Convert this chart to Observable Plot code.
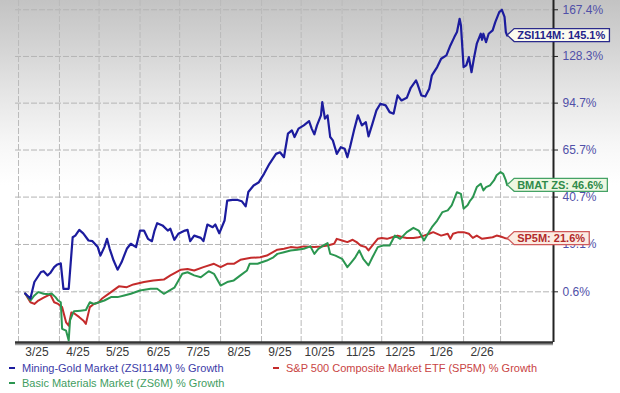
<!DOCTYPE html>
<html><head><meta charset="utf-8">
<script src="https://cdn.jsdelivr.net/npm/d3@7"></script>
<script src="https://cdn.jsdelivr.net/npm/@observablehq/plot@0.6"></script>
<style>
html,body{margin:0;padding:0;background:#fff;}
#wrap{width:620px;height:393px;position:relative;overflow:hidden;
 background:linear-gradient(to bottom,#c3c3c3 0px,#d3d3d3 45px,#e6e6e6 95px,#f7f7f7 145px,#ffffff 185px);
 font-family:"Liberation Sans",Arial,sans-serif;}
#chart{position:absolute;left:0;top:0;}
#legend{position:absolute;left:0;top:361px;width:620px;font-size:11px;font-family:"Liberation Sans Narrow","Liberation Sans",Arial,sans-serif;}
.row{position:relative;height:15px;}
.item{position:absolute;top:0;white-space:nowrap;line-height:15px;}
.dash{display:inline-block;width:6px;height:2.5px;vertical-align:middle;margin-right:7px;position:relative;top:-1px;}
</style></head><body><div id="wrap"><div id="chart"></div><div id="legend"></div></div>
<script>
// ---- data ----
const SERIES_LABELS = ["Mining-Gold Market (ZSI114M) % Growth", "S&P 500 Composite Market ETF (SP5M) % Growth", "Basic Materials Market (ZS6M) % Growth"];
const SERIES_COLORS = ["#1c1c9e", "#c42b2b", "#2b9650"];
const LEGEND_TEXT_COLORS = ["#3c3ca8", "#c94444", "#3f9d5f"];

const goldDates = ["2025-03-06","2025-03-10","2025-03-13","2025-03-18","2025-03-20","2025-03-23","2025-03-25","2025-03-28","2025-03-30","2025-04-02","2025-04-04","2025-04-08","2025-04-11","2025-04-13","2025-04-16","2025-04-19","2025-04-23","2025-04-26","2025-04-30","2025-05-02","2025-05-05","2025-05-07","2025-05-09","2025-05-12","2025-05-15","2025-05-18","2025-05-22","2025-05-25","2025-05-29","2025-06-01","2025-06-04","2025-06-07","2025-06-10","2025-06-12","2025-06-14","2025-06-18","2025-06-22","2025-06-24","2025-06-27","2025-06-30","2025-07-05","2025-07-07","2025-07-09","2025-07-12","2025-07-17","2025-07-19","2025-07-22","2025-07-26","2025-07-28","2025-07-31","2025-08-04","2025-08-06","2025-08-10","2025-08-14","2025-08-17","2025-08-20","2025-08-22","2025-08-26","2025-08-30","2025-09-03","2025-09-07","2025-09-12","2025-09-15","2025-09-18","2025-09-21","2025-09-24","2025-09-26","2025-09-29","2025-10-03","2025-10-07","2025-10-09","2025-10-11","2025-10-13","2025-10-16","2025-10-17","2025-10-19","2025-10-21","2025-10-23","2025-10-25","2025-10-28","2025-10-31","2025-11-03","2025-11-05","2025-11-07","2025-11-10","2025-11-13","2025-11-16","2025-11-19","2025-11-21","2025-11-24","2025-11-27","2025-11-30","2025-12-04","2025-12-07","2025-12-10","2025-12-13","2025-12-16","2025-12-20","2025-12-23","2025-12-27","2025-12-28","2025-12-31","2026-01-03","2026-01-06","2026-01-08","2026-01-12","2026-01-15","2026-01-19","2026-01-22","2026-01-25","2026-01-27","2026-01-29","2026-01-30","2026-02-01","2026-02-03","2026-02-05","2026-02-07","2026-02-09","2026-02-11","2026-02-14","2026-02-15","2026-02-16","2026-02-18","2026-02-20","2026-02-23","2026-02-25","2026-02-28","2026-03-02","2026-03-04","2026-03-05","2026-03-06"];
const goldValues = [0.0,-1.8,4.2,8.0,8.3,6.7,7.6,9.9,10.8,11.4,1.7,1.7,22.2,22.9,25.4,23.9,20.8,20.5,18.0,14.5,18.0,21.5,17.3,12.5,8.9,11.8,17.3,19.4,18.0,25.1,25.1,21.5,20.5,25.1,28.4,27.4,25.1,25.9,21.1,23.7,25.1,25.4,20.5,22.9,21.9,20.5,27.8,26.6,27.8,23.9,29.6,39.0,39.3,39.3,38.7,36.2,43.2,46.5,48.2,52.7,58.0,63.5,64.4,61.6,75.3,77.3,73.3,78.4,80.4,83.1,78.4,74.9,80.4,86.7,95.4,84.6,86.7,73.3,71.3,63.5,67.3,66.4,61.6,67.3,77.3,86.7,80.4,82.4,73.7,81.5,89.9,94.3,93.2,88.8,87.8,99.9,96.5,98.3,105.2,110.4,108.1,99.9,99.2,104.5,114.1,120.2,126.5,129.1,137.0,143.8,148.0,159.4,153.6,120.2,121.5,127.8,116.4,127.8,138.4,146.6,141.6,146.6,139.6,146.6,149.4,156.4,165.3,167.4,161.0,148.0,145.1];

const spDates = ["2025-03-06","2025-03-10","2025-03-13","2025-03-16","2025-03-20","2025-03-25","2025-03-28","2025-03-31","2025-04-03","2025-04-06","2025-04-08","2025-04-10","2025-04-12","2025-04-16","2025-04-19","2025-04-21","2025-04-24","2025-04-27","2025-05-01","2025-05-03","2025-05-10","2025-05-16","2025-05-22","2025-05-27","2025-06-04","2025-06-11","2025-06-19","2025-06-24","2025-07-02","2025-07-07","2025-07-12","2025-07-19","2025-07-27","2025-08-01","2025-08-06","2025-08-11","2025-08-16","2025-08-24","2025-08-31","2025-09-05","2025-09-13","2025-09-18","2025-09-23","2025-09-28","2025-10-03","2025-10-11","2025-10-16","2025-10-21","2025-10-26","2025-10-28","2025-11-01","2025-11-05","2025-11-09","2025-11-12","2025-11-15","2025-11-19","2025-11-21","2025-11-24","2025-11-28","2025-12-01","2025-12-05","2025-12-09","2025-12-13","2025-12-17","2025-12-20","2025-12-25","2025-12-29","2026-01-02","2026-01-06","2026-01-09","2026-01-15","2026-01-20","2026-01-22","2026-01-24","2026-01-28","2026-02-01","2026-02-05","2026-02-08","2026-02-11","2026-02-15","2026-02-19","2026-02-23","2026-02-26","2026-03-01","2026-03-04","2026-03-06"];
const spValues = [0.0,-3.1,-3.7,-2.5,-1.5,-0.3,-3.1,-3.7,-4.8,-9.9,-11.0,-6.6,-6.9,-8.2,-9.3,-10.4,-4.8,-3.7,-3.1,-1.9,0.5,2.6,2.3,3.3,4.2,4.8,5.1,6.7,8.9,9.2,8.6,9.9,11.2,9.9,11.2,11.2,12.8,13.6,13.8,14.5,16.9,17.3,18.0,17.7,18.3,18.0,18.3,18.7,19.4,21.5,20.8,20.1,21.1,20.1,18.7,18.0,16.6,18.7,21.5,21.9,21.5,22.2,22.9,22.2,21.9,21.9,22.2,22.9,23.7,24.4,22.9,23.7,21.5,23.7,24.4,24.4,23.7,21.9,22.9,21.5,21.9,22.2,22.9,22.5,21.9,21.6];

const matDates = ["2025-03-06","2025-03-10","2025-03-13","2025-03-16","2025-03-20","2025-03-24","2025-03-26","2025-03-29","2025-03-31","2025-04-02","2025-04-03","2025-04-06","2025-04-08","2025-04-09","2025-04-11","2025-04-12","2025-04-17","2025-04-21","2025-04-24","2025-04-27","2025-05-01","2025-05-05","2025-05-10","2025-05-15","2025-05-20","2025-05-25","2025-06-01","2025-06-09","2025-06-14","2025-06-19","2025-06-27","2025-07-03","2025-07-07","2025-07-12","2025-07-17","2025-07-23","2025-07-27","2025-08-01","2025-08-06","2025-08-11","2025-08-16","2025-08-21","2025-08-23","2025-08-29","2025-09-05","2025-09-10","2025-09-13","2025-09-18","2025-09-23","2025-09-28","2025-10-03","2025-10-08","2025-10-11","2025-10-14","2025-10-18","2025-10-21","2025-10-23","2025-10-27","2025-11-01","2025-11-05","2025-11-08","2025-11-11","2025-11-14","2025-11-17","2025-11-21","2025-11-24","2025-11-28","2025-12-02","2025-12-07","2025-12-11","2025-12-15","2025-12-20","2025-12-25","2025-12-29","2026-01-02","2026-01-05","2026-01-08","2026-01-12","2026-01-16","2026-01-20","2026-01-23","2026-01-27","2026-01-30","2026-02-01","2026-02-04","2026-02-06","2026-02-08","2026-02-11","2026-02-14","2026-02-16","2026-02-18","2026-02-21","2026-02-24","2026-02-26","2026-03-01","2026-03-03","2026-03-05","2026-03-06"];
const matValues = [0.0,-2.5,-0.7,0.5,-0.1,-0.3,0.0,-1.3,-2.5,-3.1,-12.0,-12.6,-15.7,-9.3,-7.1,-6.2,-6.0,-5.8,-3.1,-3.7,-3.1,-2.5,-1.3,-1.3,-0.7,-0.1,1.1,1.7,1.7,-0.1,2.1,7.3,7.9,6.7,6.0,8.3,7.3,2.9,4.2,4.8,6.7,8.6,11.2,11.2,12.5,13.8,15.2,15.9,16.6,16.9,17.3,18.3,15.2,17.3,18.7,19.7,15.2,14.5,13.2,9.9,11.8,13.8,16.6,13.2,10.6,13.8,18.0,18.7,18.7,22.9,21.5,24.4,26.3,25.1,20.8,23.7,26.6,29.6,33.5,34.3,36.7,43.1,42.3,35.1,36.7,39.0,40.6,45.7,47.4,44.0,45.7,46.6,49.1,51.8,53.5,52.6,49.1,46.6];

// axis ticks
const Y_TICK_VALUES = [167.4, 128.3, 94.7, 65.7, 40.7, 19.1, 0.6];
const X_TICK_DATES = ["2025-03-15","2025-04-15","2025-05-15","2025-06-15","2025-07-15","2025-08-15","2025-09-15","2025-10-15","2025-11-15","2025-12-15","2026-01-15","2026-02-15"];
const X_TICK_LABELS = ["3/25","4/25","5/25","6/25","7/25","8/25","9/25","10/25","11/25","12/25","1/26","2/26"];
const MONTH_STARTS = ["2025-03-01","2025-04-01","2025-05-01","2025-06-01","2025-07-01","2025-08-01","2025-09-01","2025-10-01","2025-11-01","2025-12-01","2026-01-01","2026-02-01","2026-03-01"];

// end-of-line tags
const TAG_NAMES = ["ZSI114M", "BMAT ZS", "SP5M"];
const TAG_VALUES = [145.1, 46.6, 21.6];
const TAG_DATE = "2026-03-06";
const TAG_TEXT = ["#23238a", "#2f8a4a", "#b22a2a"];
const TAG_FILL = ["#fbfbef", "#eef7e2", "#fbebe2"];
const TAG_STROKE = ["#2a2a8c", "#45a266", "#cf5a5a"];

// ---- chart ----
const OFF = 110.9; // the growth axis is logarithmic in (growth + offset)
const parse = d3.utcParse("%Y-%m-%d");
const mk = (dates, vals) => dates.map((d, i) => ({date: parse(d), pct: vals[i]}));
const gold = mk(goldDates, goldValues), sp = mk(spDates, spValues), mat = mk(matDates, matValues);
const tags = TAG_NAMES.map((n, i) => ({name: n, value: TAG_VALUES[i], date: parse(TAG_DATE), i}));

const X0 = new Date(Date.UTC(2025, 1, 26, 17));
const X1 = new Date(Date.UTC(2026, 3, 10, 2));
const Y0 = 94.6, Y1 = 286.8;
const xLabel = new Map(X_TICK_DATES.map((d, i) => [+parse(d), X_TICK_LABELS[i]]));

const plot = Plot.plot({
  width: 620, height: 362,
  marginLeft: 15, marginRight: 67, marginTop: 0, marginBottom: 20,
  style: {background: "transparent", overflow: "visible", fontFamily: "'Liberation Sans', Arial, sans-serif"},
  x: {type: "utc", domain: [X0, X1], label: null},
  y: {type: "log", domain: [Y0, Y1], label: null},
  marks: [
    Plot.gridY(Y_TICK_VALUES.map(v => v + OFF), {stroke: "#b4b4b4", strokeOpacity: 1, strokeWidth: 1, strokeDasharray: "6,2"}),
    Plot.gridX(MONTH_STARTS.map(parse), {stroke: "#bababa", strokeOpacity: 1, strokeWidth: 1, strokeDasharray: "6,2"}),
    Plot.ruleY([Y0], {stroke: "#9a9a9a", strokeWidth: 1.5, dy: 2}),
    Plot.ruleY([Y0], {stroke: "#333", strokeWidth: 2.5}),
    Plot.ruleX([X1], {stroke: "#222", strokeWidth: 2}),
    Plot.axisX(X_TICK_DATES.map(parse), {tickSize: 0, tickPadding: 5, label: null, tickFormat: d => xLabel.get(+d), fontSize: 12, fill: "#383838", fontFamily: "'Liberation Sans Narrow','Liberation Sans',Arial,sans-serif"}),
    Plot.axisY(Y_TICK_VALUES.map(v => v + OFF), {anchor: "right", tickSize: 4, tickPadding: 5, label: null, stroke: "#222", fill: "#5050a8", fontSize: 12, tickFormat: v => (v - OFF).toFixed(1) + "%"}),
    Plot.line(sp, {x: "date", y: d => d.pct + OFF, stroke: SERIES_COLORS[1], strokeWidth: 2}),
    Plot.line(mat, {x: "date", y: d => d.pct + OFF, stroke: SERIES_COLORS[2], strokeWidth: 2}),
    Plot.line(gold, {x: "date", y: d => d.pct + OFF, stroke: SERIES_COLORS[0], strokeWidth: 2.2}),
    Plot.text(tags, {x: "date", y: d => d.value + OFF, text: d => `${d.name}: ${d.value.toFixed(1)}%`, dx: 10, textAnchor: "start", fontWeight: "bold", fontSize: 11, fill: d => TAG_TEXT[d.i], className: "tag"})
  ]
});
document.getElementById("chart").append(plot);

// draw the pointed label boxes behind the tag texts
const tagGroup = plot.querySelector("g.tag") || plot.querySelector('g[aria-label="text"]');
tagGroup.querySelectorAll("text").forEach((t, i) => {
  const b = t.getBBox();
  const l = b.x - 3, r = b.x + b.width + 4, top = b.y - 0.5, bot = b.y + b.height + 0.5, cy = (top + bot) / 2;
  const p = document.createElementNS("http://www.w3.org/2000/svg", "path");
  p.setAttribute("d", `M${b.x - 10},${cy}L${l},${top}H${r}V${bot}H${l}Z`);
  p.setAttribute("fill", TAG_FILL[i]);
  p.setAttribute("stroke", TAG_STROKE[i]);
  p.setAttribute("stroke-width", "1.3");
  const tr = t.getAttribute("transform");
  if (tr) p.setAttribute("transform", tr);
  t.parentNode.insertBefore(p, t);
});

// legend
const legend = document.getElementById("legend");
const rows = [[[0, 9], [1, 273]], [[2, 9]]];
rows.forEach(r => {
  const row = document.createElement("div"); row.className = "row";
  r.forEach(([k, left]) => {
    const it = document.createElement("div"); it.className = "item"; it.style.left = left + "px";
    it.style.color = LEGEND_TEXT_COLORS[k];
    const dash = document.createElement("span"); dash.className = "dash"; dash.style.background = SERIES_COLORS[k];
    it.append(dash, document.createTextNode(SERIES_LABELS[k]));
    row.append(it);
  });
  legend.append(row);
});
</script></body></html>
